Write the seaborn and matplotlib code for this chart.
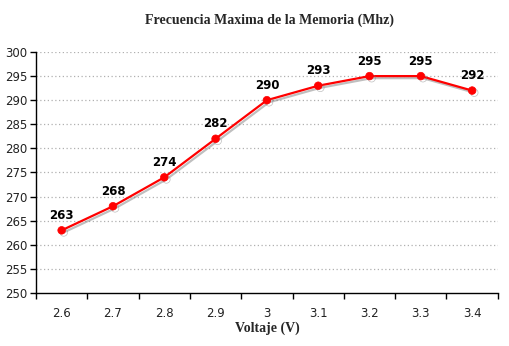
import matplotlib
matplotlib.use("Agg")
import matplotlib.pyplot as plt
import matplotlib.patheffects as pe
from matplotlib.ticker import FixedLocator, NullFormatter
import seaborn as sns
import pandas as pd

voltages = ["2.6", "2.7", "2.8", "2.9", "3", "3.1", "3.2", "3.3", "3.4"]
freqs = [263, 268, 274, 282, 290, 293, 295, 295, 292]
y_ticks = [250, 255, 260, 265, 270, 275, 280, 285, 290, 295, 300]

sns.set_theme(style="white")
plt.rcParams['font.family'] = ['DejaVu Sans']

df = pd.DataFrame({"pos": list(range(len(voltages))), "freq": freqs})

fig = plt.figure(figsize=(5.09, 3.46), dpi=100)
ax = fig.add_axes([0.0707, 0.1532, 0.9073, 0.6965])

sns.lineplot(data=df, x="pos", y="freq", ax=ax, color="#ff0000", linewidth=1.6,
             marker="o", markersize=5.5)
for line in ax.get_lines():
    line.set_markeredgecolor("#ff0000")
    line.set_markerfacecolor("#ff0000")
    line.set_markeredgewidth(0.5)
    line.set_path_effects([pe.SimpleLineShadow(offset=(1.5, -1.5), shadow_color="#808080", alpha=0.5),
                           pe.Normal()])

for i, v in enumerate(freqs):
    ax.annotate(str(v), (i, v), xytext=(0, 6), textcoords="offset points",
                ha="center", va="bottom", fontsize=8.5, fontweight="bold", color="black")

ax.set_xlim(-0.5, len(voltages) - 0.5)
ax.set_ylim(250, 300)
ax.set_yticks(y_ticks)
ax.set_yticklabels([str(t) for t in y_ticks], fontsize=8.5, color="#222222")
ax.set_xticks(range(len(voltages)))
ax.set_xticklabels(voltages, fontsize=8.5, color="#222222")
ax.xaxis.set_minor_locator(FixedLocator([i - 0.5 for i in range(len(voltages) + 1)]))
ax.xaxis.set_minor_formatter(NullFormatter())
ax.tick_params(axis="x", which="major", length=0, pad=10)
ax.tick_params(axis="x", which="minor", length=4, width=1, color="black", direction="out", bottom=True)
ax.tick_params(axis="y", which="major", length=4, width=1, color="black", direction="out", left=True, pad=2)

for y in y_ticks[1:]:
    ax.axhline(y, color="#b0b0b0", linestyle=(0, (1, 2)), linewidth=0.9, zorder=0)

for s in ["top", "right"]:
    ax.spines[s].set_visible(False)
for s in ["left", "bottom"]:
    ax.spines[s].set_color("black")
    ax.spines[s].set_linewidth(1)

ax.set_xlabel("Voltaje (V)", fontsize=10, fontweight="bold", family="Liberation Serif", labelpad=1)
ax.set_ylabel("")
fig.text(0.53, 0.942, "Frecuencia Maxima de la Memoria (Mhz)", ha="center", va="center",
         fontsize=10, fontweight="bold", family="Liberation Serif")

fig.savefig("out.png", dpi=100, facecolor="white")
